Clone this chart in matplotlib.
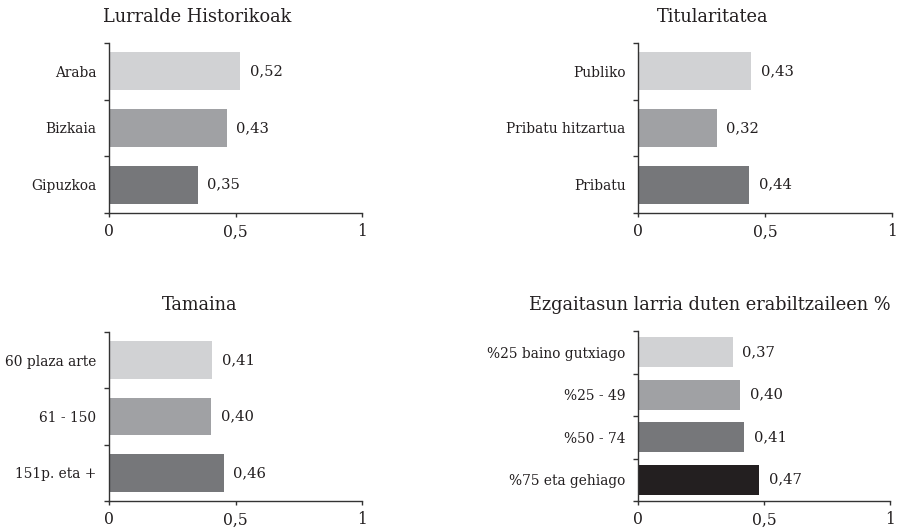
import matplotlib
matplotlib.use("Agg")
import matplotlib.pyplot as plt

# panel data: category labels, bar lengths as drawn, printed value labels
lurralde_cats = ["Araba", "Bizkaia", "Gipuzkoa"]
lurralde_bars = [0.518, 0.465, 0.35]
lurralde_lbls = ["0,52", "0,43", "0,35"]

titular_cats = ["Publiko", "Pribatu hitzartua", "Pribatu"]
titular_bars = [0.446, 0.31, 0.438]
titular_lbls = ["0,43", "0,32", "0,44"]

tamaina_cats = ["60 plaza arte", "61 - 150", "151p. eta +"]
tamaina_bars = [0.408, 0.405, 0.453]
tamaina_lbls = ["0,41", "0,40", "0,46"]

ezgai_cats = ["%25 baino gutxiago", "%25 - 49", "%50 - 74", "%75 eta gehiago"]
ezgai_bars = [0.375, 0.405, 0.42, 0.48]
ezgai_lbls = ["0,37", "0,40", "0,41", "0,47"]

x_ticks = [0, 0.5, 1]
x_ticklabels = ["0", "0,5", "1"]

grays = ["#d1d2d4", "#a0a1a4", "#76777a", "#231f20"]
txt = "#231f20"

plt.rcParams["font.family"] = "DejaVu Serif"

W, H = 898, 528
fig = plt.figure(figsize=(W / 100, H / 100), dpi=100)


def panel(px_left, px_top, px_w, px_h, cats, bars, lbls, title, title_x, title_y,
          bar_h=0.67):
    ax = fig.add_axes([px_left / W, 1 - (px_top + px_h) / H, px_w / W, px_h / H])
    n = len(cats)
    ypos = list(range(n))
    ax.barh(ypos, bars, height=bar_h, color=grays[:n], edgecolor="none")
    for y, v, s in zip(ypos, bars, lbls):
        ax.annotate(s, (v, y), xytext=(7, 0), textcoords="offset points",
                    va="center", ha="left", fontsize=10.6, color=txt)
    ax.set_xlim(0, 1)
    ax.set_ylim(n - 0.5, -0.5)
    ax.set_yticks(ypos)
    ax.set_yticklabels(cats)
    ax.set_yticks([i - 0.5 for i in range(n + 1)], minor=True)
    ax.tick_params(axis="y", which="major", length=0, pad=9, labelsize=9.9,
                   labelcolor=txt)
    ax.tick_params(axis="y", which="minor", length=3.6, width=1, color="#333333")
    ax.set_xticks(x_ticks)
    ax.set_xticklabels(x_ticklabels)
    ax.tick_params(axis="x", length=3, width=1, color="#333333", pad=4.5,
                   labelsize=11.2, labelcolor=txt)
    for side in ["top", "right"]:
        ax.spines[side].set_visible(False)
    for side in ["left", "bottom"]:
        ax.spines[side].set_linewidth(1)
        ax.spines[side].set_color("#333333")
    fig.text(title_x / W, 1 - title_y / H, title, ha="center", va="center",
             fontsize=12.8, color=txt)
    return ax


panel(109, 43, 253, 170, lurralde_cats, lurralde_bars, lurralde_lbls,
      "Lurralde Historikoak", 197, 17)
panel(638, 43, 254, 170, titular_cats, titular_bars, titular_lbls,
      "Titularitatea", 713, 17)
panel(109, 332, 253, 169, tamaina_cats, tamaina_bars, tamaina_lbls,
      "Tamaina", 200, 305)
panel(638, 331, 252, 170, ezgai_cats, ezgai_bars, ezgai_lbls,
      "Ezgaitasun larria duten erabiltzaileen %", 710, 305, bar_h=0.71)

fig.savefig("out.png", dpi=100)
